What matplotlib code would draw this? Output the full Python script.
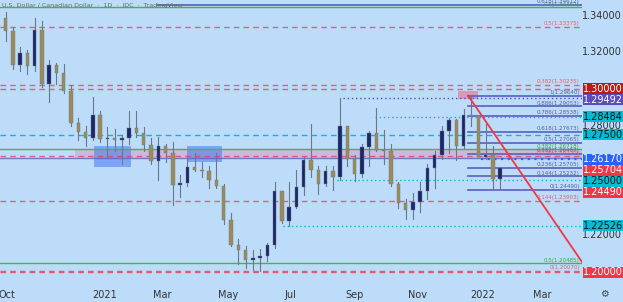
import numpy as np
import matplotlib
matplotlib.use('Agg')
import matplotlib.pyplot as plt
from matplotlib.patches import Rectangle

# ---------------- data (weekly OHLC) ----------------
week_start = ['2020-09-28', '2020-10-05', '2020-10-12', '2020-10-19', '2020-10-26', '2020-11-02',
              '2020-11-09', '2020-11-16', '2020-11-23', '2020-11-30', '2020-12-07', '2020-12-14',
              '2020-12-21', '2020-12-28', '2021-01-04', '2021-01-11', '2021-01-18', '2021-01-25',
              '2021-02-01', '2021-02-08', '2021-02-15', '2021-02-22', '2021-03-01', '2021-03-08',
              '2021-03-15', '2021-03-22', '2021-03-29', '2021-04-05', '2021-04-12', '2021-04-19',
              '2021-04-26', '2021-05-03', '2021-05-10', '2021-05-17', '2021-05-24', '2021-05-31',
              '2021-06-07', '2021-06-14', '2021-06-21', '2021-06-28', '2021-07-05', '2021-07-12',
              '2021-07-19', '2021-07-26', '2021-08-02', '2021-08-09', '2021-08-16', '2021-08-23',
              '2021-08-30', '2021-09-06', '2021-09-13', '2021-09-20', '2021-09-27', '2021-10-04',
              '2021-10-11', '2021-10-18', '2021-10-25', '2021-11-01', '2021-11-08', '2021-11-15',
              '2021-11-22', '2021-11-29', '2021-12-06', '2021-12-13', '2021-12-20', '2021-12-27',
              '2022-01-03', '2022-01-10', '2022-01-17']
opens = [1.3390, 1.3315, 1.3130, 1.3195, 1.3125, 1.3320, 1.3030, 1.3130, 1.3085, 1.2990, 1.2815, 1.2765,
         1.2730, 1.2860, 1.2725, 1.2730, 1.2720, 1.2730, 1.2785, 1.2760, 1.2695, 1.2605, 1.2690, 1.2650,
         1.2475, 1.2485, 1.2575, 1.2555, 1.2550, 1.2505, 1.2470, 1.2285, 1.2150, 1.2120, 1.2065, 1.2075,
         1.2090, 1.2150, 1.2440, 1.2280, 1.2355, 1.2465, 1.2610, 1.2560, 1.2480, 1.2550, 1.2520, 1.2800,
         1.2620, 1.2535, 1.2685, 1.2760, 1.2665, 1.2660, 1.2480, 1.2375, 1.2340, 1.2380, 1.2440, 1.2570,
         1.2640, 1.2770, 1.2830, 1.2690, 1.2860, 1.2850, 1.2630, 1.2640, 1.2510]
highs = [1.3420, 1.3340, 1.3230, 1.3215, 1.3390, 1.3370, 1.3160, 1.3140, 1.3135, 1.3020, 1.2840, 1.2800,
         1.2955, 1.2880, 1.2790, 1.2780, 1.2750, 1.2880, 1.2880, 1.2790, 1.2730, 1.2740, 1.2700, 1.2710,
         1.2530, 1.2620, 1.2650, 1.2600, 1.2580, 1.2650, 1.2480, 1.2320, 1.2180, 1.2140, 1.2120, 1.2125,
         1.2160, 1.2490, 1.2440, 1.2490, 1.2560, 1.2630, 1.2810, 1.2580, 1.2580, 1.2580, 1.2950, 1.2800,
         1.2640, 1.2700, 1.2770, 1.2895, 1.2775, 1.2700, 1.2490, 1.2400, 1.2430, 1.2490, 1.2590, 1.2660,
         1.2800, 1.2840, 1.2835, 1.2890, 1.2964, 1.2860, 1.2810, 1.2690, 1.2575]
lows = [1.3260, 1.3110, 1.3100, 1.3080, 1.3100, 1.3010, 1.2930, 1.3030, 1.2980, 1.2800, 1.2720, 1.2690,
        1.2720, 1.2710, 1.2630, 1.2660, 1.2590, 1.2700, 1.2740, 1.2660, 1.2590, 1.2500, 1.2600, 1.2365,
        1.2410, 1.2470, 1.2550, 1.2520, 1.2460, 1.2460, 1.2265, 1.2140, 1.2045, 1.2020, 1.2010, 1.2007,
        1.2060, 1.2130, 1.2270, 1.2250, 1.2350, 1.2420, 1.2520, 1.2425, 1.2470, 1.2450, 1.2500, 1.2580,
        1.2495, 1.2520, 1.2580, 1.2660, 1.2590, 1.2470, 1.2350, 1.2290, 1.2290, 1.2330, 1.2400, 1.2460,
        1.2620, 1.2650, 1.2610, 1.2680, 1.2800, 1.2650, 1.2620, 1.2449, 1.2460]
closes = [1.3315, 1.3130, 1.3195, 1.3125, 1.3320, 1.3030, 1.3130, 1.3085, 1.2990, 1.2815, 1.2765, 1.2730,
          1.2860, 1.2725, 1.2730, 1.2720, 1.2730, 1.2785, 1.2760, 1.2695, 1.2605, 1.2690, 1.2650, 1.2475,
          1.2485, 1.2575, 1.2555, 1.2550, 1.2505, 1.2470, 1.2285, 1.2150, 1.2120, 1.2065, 1.2075, 1.2090,
          1.2150, 1.2440, 1.2280, 1.2355, 1.2465, 1.2610, 1.2560, 1.2480, 1.2550, 1.2520, 1.2800, 1.2620,
          1.2535, 1.2685, 1.2760, 1.2665, 1.2660, 1.2480, 1.2375, 1.2340, 1.2380, 1.2440, 1.2570, 1.2640,
          1.2770, 1.2830, 1.2690, 1.2860, 1.2850, 1.2630, 1.2640, 1.2510, 1.25704]

# Fibonacci retracement (Dec-2021 high to Jan-2022 low)
fib_low, fib_high = 1.24490, 1.29640
fib_levels = [1, 0.886, 0.786, 0.618, 0.5, 0.382, 0.236, 0.144, 0]
fib_start = '2021-12-20'

# full-width horizontal levels: (price, label)
red_fib = [(1.33375, '0.5(1.33375)'), (1.30235, '0.382(1.30235)'), (1.26350, '0.236(1.26350)'),
           (1.23903, '0.144(1.23903)'), (1.20070, '0(1.20070)')]
green_fib = [(1.34467, '0.5(1.34467)'), (1.26718, '0.382(1.26718)'), (1.20485, '0.5(1.20485)')]
top_purple = (1.34612, '0.618(1.34612)')
red_round = [1.30000, 1.20000]
cyan_dashed = [1.27500]
purple_solid_left = 1.26230
zone = (1.26230, 1.26718, '2020-12-07')

# partial dotted levels: (price, start date, colour key)
dotted_levels = [(1.29492, '2021-08-20', 'purple'), (1.28484, '2021-09-21', 'cyan'),
                 (1.25000, '2021-08-16', 'cyan'), (1.22526, '2021-06-24', 'cyan'),
                 (1.26170, '2021-12-31', 'blue')]

# boxes
blue_boxes = [('2020-12-24', '2021-01-28', 1.2574, 1.2689), ('2021-03-24', '2021-04-27', 1.2601, 1.2689)]
pink_box = ('2021-12-09', '2021-12-29', 1.2945, 1.2989)
trend_start = ('2021-12-20', 1.2964)
trend_end_price = 1.2055

# price-scale labels
axis_plain = [1.34, 1.32, 1.28, 1.22]
axis_boxes = [(1.30000, 'darkred'), (1.29492, 'purple'), (1.28484, 'cyan'), (1.27500, 'cyan'),
              (1.26170, 'blue'), (1.25704, 'red'), (1.25000, 'cyan'), (1.24490, 'red'),
              (1.22526, 'cyan'), (1.20000, 'red')]

month_ticks = [('2020-10-01', 'Oct'), ('2021-01-04', '2021'), ('2021-03-01', 'Mar'), ('2021-05-03', 'May'),
               ('2021-07-01', 'Jul'), ('2021-09-01', 'Sep'), ('2021-11-01', 'Nov'), ('2022-01-03', '2022'),
               ('2022-03-01', 'Mar')]

# ---------------- style ----------------
BG = '#bcdcfa'
C = {'red': '#f23645', 'darkred': '#b71c1c', 'purple': '#5b4bbd', 'cyan': '#00bcd4',
     'blue': '#2962ff', 'green': '#4caf50', 'fib': '#5a5fc0', 'redlbl': '#e06070',
     'greenlbl': '#43a047'}
UP, DOWN, WICK = '#1b2767', '#9b8c57', '#6d7786'

W, H = 623, 302
fig = plt.figure(figsize=(W / 100, H / 100), dpi=100, facecolor=BG)
AX_R, AX_B = 582, 19
ax = fig.add_axes([0, AX_B / H, AX_R / W, (H - AX_B) / H])
ax.set_facecolor(BG)
for s in ax.spines.values():
    s.set_visible(False)


def bx(d):
    return float(np.busday_count('2020-10-01', d))


XMIN, XMAX = -4.8, 395.3
YMIN, YMAX = 1.19399, 1.34863
ax.set_xlim(XMIN, XMAX)
ax.set_ylim(YMIN, YMAX)
ax.set_yticks([])
ax.set_xticks([bx(d) for d, _ in month_ticks])
ax.set_xticklabels([l for _, l in month_ticks], fontsize=7, color='#333333')
ax.tick_params(axis='x', length=0, pad=5)

# horizontal levels
for p, _ in red_fib:
    ax.axhline(p, color=C['red'], lw=1.0, ls=(0, (4, 3)), alpha=0.75, zorder=2)
for p in red_round:
    ax.axhline(p, color=C['red'], lw=1.0, ls=(0, (4, 3)), alpha=0.75, zorder=2)
for p, _ in green_fib:
    ax.axhline(p, color=C['green'], lw=1.0, zorder=2)
ax.axhline(top_purple[0], xmin=157 / AX_R, color=C['fib'], lw=1.2, zorder=2)
for p in cyan_dashed:
    ax.axhline(p, color=C['cyan'], lw=1.0, ls=(0, (4, 3)), zorder=2)
ax.axhline(purple_solid_left, color=C['fib'], lw=1.0, alpha=0.8, zorder=2)
ax.fill_between([bx(zone[2]), XMAX], zone[0], zone[1], color='#f06090', alpha=0.28, lw=0, zorder=1)

for p, d, k in dotted_levels:
    lw = 1.6 if k == 'blue' else 1.0
    ax.plot([bx(d), XMAX], [p, p], color=C[k], lw=lw, ls=(0, (1, 2)), zorder=2)

for d0, d1, lo, hi in blue_boxes:
    ax.add_patch(Rectangle((bx(d0), lo), bx(d1) - bx(d0), hi - lo, color='#2f66f0', alpha=0.45,
                           lw=0, zorder=1.5))
d0, d1, lo, hi = pink_box
ax.add_patch(Rectangle((bx(d0), lo), bx(d1) - bx(d0), hi - lo, color='#f06080', alpha=0.55, lw=0, zorder=1.5))

# fibonacci retracement lines
fx0 = bx(fib_start)
LBL = 4.0
for lv in fib_levels:
    p = fib_low + lv * (fib_high - fib_low)
    ax.plot([fx0, XMAX], [p, p], color=C['fib'], lw=1.2, zorder=2)
    ax.text(XMAX - 1.5, p + 0.0004, f'{lv:g}({p:.5f})', fontsize=LBL, color='#5a5fa0',
            ha='right', va='bottom', zorder=6)

# labels for the other fib lines
for p, t in red_fib:
    ax.text(XMAX - 1.5, p + 0.0004, t, fontsize=LBL, color=C['redlbl'], ha='right', va='bottom', zorder=6)
for p, t in green_fib:
    ax.text(XMAX - 1.5, p + 0.0003, t, fontsize=LBL, color=C['greenlbl'], ha='right', va='bottom', zorder=6)
ax.text(XMAX - 1.5, top_purple[0] + 0.0002, top_purple[1], fontsize=LBL, color='#5a5fa0',
        ha='right', va='bottom', zorder=6)

# candles
xs = [bx(d) + 2 for d in week_start]
bw = 2.4
for x, o, h, l, c in zip(xs, opens, highs, lows, closes):
    ax.plot([x, x], [l, h], color=WICK, lw=0.8, zorder=3)
    col = UP if c >= o else DOWN
    ax.add_patch(Rectangle((x - bw / 2, min(o, c)), bw, max(abs(c - o), 0.0003), facecolor=col,
                           edgecolor=WICK, lw=0.3, zorder=4))

# trend line
ax.plot([bx(trend_start[0]), XMAX], [trend_start[1], trend_end_price], color=C['red'], lw=1.3, zorder=5)

# title
fig.text(2 / W, 1 - 5 / H, 'U.S. Dollar / Canadian Dollar  ·  1D  ·  IDC  ·  TradingView',
         fontsize=4.6, color='#6a6a6a', va='center', ha='left')

# price scale
fig.canvas.draw()


def ypix(p):
    return ax.transData.transform((0, p))[1]


for p in axis_plain:
    fig.text((AX_R + 20) / W, ypix(p) / H, f'{p:.5f}', fontsize=7, color='#333333',
             ha='center', va='center', zorder=1)

placed = []
bh = 11
for p, k in sorted(axis_boxes, key=lambda t: -t[0]):
    y = ypix(p)
    if placed and placed[-1] - y < bh:
        y = placed[-1] - bh
    placed.append(y)
    fig.patches.append(Rectangle(((AX_R + 1) / W, (y - bh / 2) / H), 40 / W, bh / H,
                                 transform=fig.transFigure, facecolor=C[k], edgecolor='none', zorder=5))
    tc = '#111111' if k == 'cyan' else 'white'
    fig.text((AX_R + 21) / W, y / H, f'{p:.5f}', fontsize=7, color=tc, ha='center', va='center', zorder=6)

fig.text(604 / W, 1 - 294 / H, '⚙', fontsize=7, color='#444444', ha='center', va='center')

fig.savefig('out.png', dpi=100, facecolor=BG)
